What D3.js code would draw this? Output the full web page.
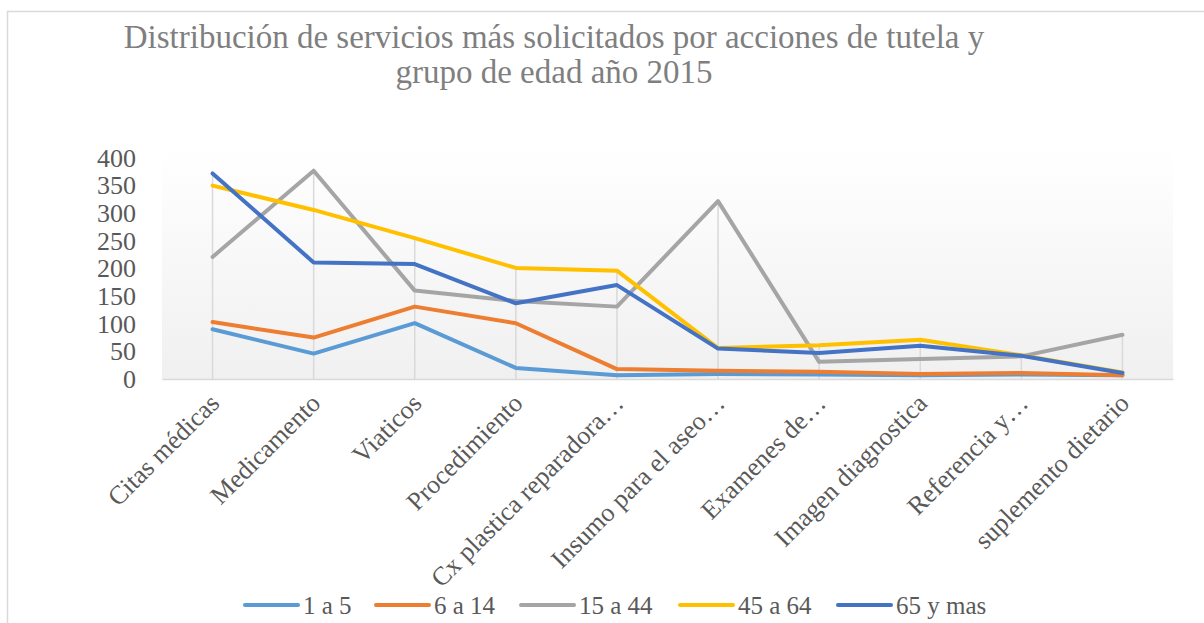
<!DOCTYPE html>
<html>
<head>
<meta charset="utf-8">
<script src="https://cdn.jsdelivr.net/npm/d3@7"></script>
<style>
  body { margin: 0; background: #fff; }
  text { font-family: "Liberation Serif", "Times New Roman", serif; }
</style>
</head>
<body>
<svg id="chart" width="1204" height="623"></svg>
<script>
// categories and series
var categories = ["Citas médicas", "Medicamento", "Viaticos", "Procedimiento",
  "Cx plastica reparadora…", "Insumo para el aseo…", "Examenes de…",
  "Imagen diagnostica", "Referencia y…", "suplemento dietario"];
var seriesNames = ["1 a 5", "6 a 14", "15 a 44", "45 a 64", "65 y mas"];
var s1a5   = [90, 46, 101, 20, 7, 9, 8, 7, 8, 7];
var s6a14  = [103, 75, 131, 101, 18, 15, 13, 9, 11, 7];
var s15a44 = [221, 377, 160, 141, 131, 322, 31, 36, 41, 80];
var s45a64 = [350, 306, 255, 201, 196, 56, 61, 71, 43, 12];
var s65    = [372, 211, 208, 137, 170, 55, 47, 60, 42, 11];
var yTicks = [0, 50, 100, 150, 200, 250, 300, 350, 400];
var colors = ["#5B9BD5", "#ED7D31", "#A5A5A5", "#FFC000", "#4472C4"];

var allSeries = [s1a5, s6a14, s15a44, s45a64, s65];

function draw() {
  var svg = d3.select("#chart");

  // outer frame
  svg.append("rect")
    .attr("x", 7.5).attr("y", 11.5)
    .attr("width", 1300).attr("height", 700)
    .attr("fill", "#fff")
    .attr("stroke", "#d9d9d9").attr("stroke-width", 1.5);

  var plotLeft = 162, plotRight = 1173, plotTop = 158, plotBottom = 379;

  var x = d3.scalePoint().domain(categories).range([plotLeft, plotRight]).padding(0.5);
  var y = d3.scaleLinear().domain([0, 400]).range([plotBottom, plotTop]);

  // plot area gradient
  var grad = svg.append("defs").append("linearGradient").attr("id", "plotbg")
    .attr("x1", 0).attr("y1", 0).attr("x2", 0).attr("y2", 1);
  grad.append("stop").attr("offset", "0%").attr("stop-color", "#ffffff");
  grad.append("stop").attr("offset", "100%").attr("stop-color", "#f0f0f0");
  svg.append("rect")
    .attr("x", plotLeft).attr("y", plotTop - 10)
    .attr("width", plotRight - plotLeft).attr("height", plotBottom - plotTop + 10)
    .attr("fill", "url(#plotbg)");

  // title
  var title = svg.append("text")
    .attr("text-anchor", "middle")
    .attr("fill", "#7f7f7f")
    .attr("font-size", 33);
  title.append("tspan").attr("x", 554).attr("y", 48)
    .text("Distribución de servicios más solicitados por acciones de tutela y");
  title.append("tspan").attr("x", 554).attr("y", 83)
    .text("grupo de edad año 2015");

  // drop lines
  svg.append("g").selectAll("line")
    .data(categories)
    .enter().append("line")
    .attr("x1", function(d) { return x(d); })
    .attr("x2", function(d) { return x(d); })
    .attr("y1", function(d, i) { return y(d3.max(allSeries, function(s) { return s[i]; })); })
    .attr("y2", y(0))
    .attr("stroke", "#d9d9d9").attr("stroke-width", 1.5);

  // y axis labels
  var yAxis = svg.append("g")
    .attr("transform", "translate(" + plotLeft + ",0)")
    .call(d3.axisLeft(y).tickValues(yTicks).tickSize(0).tickPadding(26));
  yAxis.select(".domain").remove();
  yAxis.selectAll("text")
    .attr("font-family", "Liberation Serif")
    .attr("font-size", 26)
    .attr("fill", "#595959");

  // x axis
  var xAxis = svg.append("g")
    .attr("transform", "translate(0," + plotBottom + ")")
    .call(d3.axisBottom(x).tickSize(0).tickSizeOuter(0));
  xAxis.select(".domain").attr("stroke", "#d9d9d9").attr("stroke-width", 1.5);
  xAxis.selectAll("text")
    .attr("font-family", "Liberation Serif")
    .attr("font-size", 26)
    .attr("fill", "#595959")
    .attr("text-anchor", "end")
    .attr("y", 0).attr("dy", "0.75em")
    .attr("transform", "translate(-6,12) rotate(-45)");

  // series lines
  var line = d3.line()
    .x(function(d, i) { return x(categories[i]); })
    .y(function(d) { return y(d); });

  svg.append("g").selectAll("path")
    .data(allSeries)
    .enter().append("path")
    .attr("d", line)
    .attr("fill", "none")
    .attr("stroke", function(d, i) { return colors[i]; })
    .attr("stroke-width", 4)
    .attr("stroke-linejoin", "round")
    .attr("stroke-linecap", "round");

  // legend
  var legendX = [245, 376, 521, 680, 838];
  var legend = svg.append("g").selectAll("g")
    .data(seriesNames)
    .enter().append("g")
    .attr("transform", function(d, i) { return "translate(" + legendX[i] + ",605)"; });
  legend.append("line")
    .attr("x1", 0).attr("x2", 53)
    .attr("stroke", function(d, i) { return colors[i]; })
    .attr("stroke-width", 4)
    .attr("stroke-linecap", "round");
  legend.append("text")
    .attr("x", 58).attr("dy", "0.35em")
    .attr("font-size", 25)
    .attr("fill", "#595959")
    .text(function(d) { return d; });
}

draw();
</script>
</body>
</html>
